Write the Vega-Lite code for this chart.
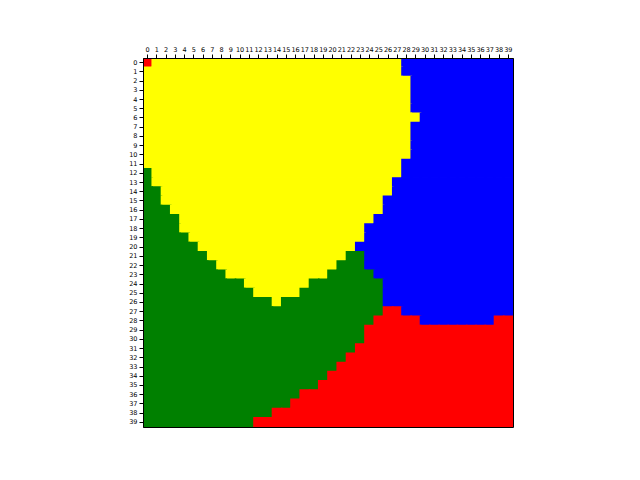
{
"$schema": "https://vega.github.io/schema/vega-lite/v6.json",
"width": 370, "height": 369,
"autosize": "none",
"padding": {"left": 143, "top": 58, "right": 127, "bottom": 53},
"background": "white",
"data": {"values": [
{"r":0,"c":0,"v":"R"},{"r":0,"c":1,"v":"Y"},{"r":0,"c":2,"v":"Y"},{"r":0,"c":3,"v":"Y"},{"r":0,"c":4,"v":"Y"},{"r":0,"c":5,"v":"Y"},{"r":0,"c":6,"v":"Y"},{"r":0,"c":7,"v":"Y"},{"r":0,"c":8,"v":"Y"},{"r":0,"c":9,"v":"Y"},{"r":0,"c":10,"v":"Y"},{"r":0,"c":11,"v":"Y"},{"r":0,"c":12,"v":"Y"},{"r":0,"c":13,"v":"Y"},{"r":0,"c":14,"v":"Y"},{"r":0,"c":15,"v":"Y"},{"r":0,"c":16,"v":"Y"},{"r":0,"c":17,"v":"Y"},{"r":0,"c":18,"v":"Y"},{"r":0,"c":19,"v":"Y"},{"r":0,"c":20,"v":"Y"},{"r":0,"c":21,"v":"Y"},{"r":0,"c":22,"v":"Y"},{"r":0,"c":23,"v":"Y"},{"r":0,"c":24,"v":"Y"},{"r":0,"c":25,"v":"Y"},{"r":0,"c":26,"v":"Y"},{"r":0,"c":27,"v":"Y"},{"r":0,"c":28,"v":"B"},{"r":0,"c":29,"v":"B"},{"r":0,"c":30,"v":"B"},{"r":0,"c":31,"v":"B"},{"r":0,"c":32,"v":"B"},{"r":0,"c":33,"v":"B"},{"r":0,"c":34,"v":"B"},{"r":0,"c":35,"v":"B"},{"r":0,"c":36,"v":"B"},{"r":0,"c":37,"v":"B"},{"r":0,"c":38,"v":"B"},{"r":0,"c":39,"v":"B"},
{"r":1,"c":0,"v":"Y"},{"r":1,"c":1,"v":"Y"},{"r":1,"c":2,"v":"Y"},{"r":1,"c":3,"v":"Y"},{"r":1,"c":4,"v":"Y"},{"r":1,"c":5,"v":"Y"},{"r":1,"c":6,"v":"Y"},{"r":1,"c":7,"v":"Y"},{"r":1,"c":8,"v":"Y"},{"r":1,"c":9,"v":"Y"},{"r":1,"c":10,"v":"Y"},{"r":1,"c":11,"v":"Y"},{"r":1,"c":12,"v":"Y"},{"r":1,"c":13,"v":"Y"},{"r":1,"c":14,"v":"Y"},{"r":1,"c":15,"v":"Y"},{"r":1,"c":16,"v":"Y"},{"r":1,"c":17,"v":"Y"},{"r":1,"c":18,"v":"Y"},{"r":1,"c":19,"v":"Y"},{"r":1,"c":20,"v":"Y"},{"r":1,"c":21,"v":"Y"},{"r":1,"c":22,"v":"Y"},{"r":1,"c":23,"v":"Y"},{"r":1,"c":24,"v":"Y"},{"r":1,"c":25,"v":"Y"},{"r":1,"c":26,"v":"Y"},{"r":1,"c":27,"v":"Y"},{"r":1,"c":28,"v":"B"},{"r":1,"c":29,"v":"B"},{"r":1,"c":30,"v":"B"},{"r":1,"c":31,"v":"B"},{"r":1,"c":32,"v":"B"},{"r":1,"c":33,"v":"B"},{"r":1,"c":34,"v":"B"},{"r":1,"c":35,"v":"B"},{"r":1,"c":36,"v":"B"},{"r":1,"c":37,"v":"B"},{"r":1,"c":38,"v":"B"},{"r":1,"c":39,"v":"B"},
{"r":2,"c":0,"v":"Y"},{"r":2,"c":1,"v":"Y"},{"r":2,"c":2,"v":"Y"},{"r":2,"c":3,"v":"Y"},{"r":2,"c":4,"v":"Y"},{"r":2,"c":5,"v":"Y"},{"r":2,"c":6,"v":"Y"},{"r":2,"c":7,"v":"Y"},{"r":2,"c":8,"v":"Y"},{"r":2,"c":9,"v":"Y"},{"r":2,"c":10,"v":"Y"},{"r":2,"c":11,"v":"Y"},{"r":2,"c":12,"v":"Y"},{"r":2,"c":13,"v":"Y"},{"r":2,"c":14,"v":"Y"},{"r":2,"c":15,"v":"Y"},{"r":2,"c":16,"v":"Y"},{"r":2,"c":17,"v":"Y"},{"r":2,"c":18,"v":"Y"},{"r":2,"c":19,"v":"Y"},{"r":2,"c":20,"v":"Y"},{"r":2,"c":21,"v":"Y"},{"r":2,"c":22,"v":"Y"},{"r":2,"c":23,"v":"Y"},{"r":2,"c":24,"v":"Y"},{"r":2,"c":25,"v":"Y"},{"r":2,"c":26,"v":"Y"},{"r":2,"c":27,"v":"Y"},{"r":2,"c":28,"v":"Y"},{"r":2,"c":29,"v":"B"},{"r":2,"c":30,"v":"B"},{"r":2,"c":31,"v":"B"},{"r":2,"c":32,"v":"B"},{"r":2,"c":33,"v":"B"},{"r":2,"c":34,"v":"B"},{"r":2,"c":35,"v":"B"},{"r":2,"c":36,"v":"B"},{"r":2,"c":37,"v":"B"},{"r":2,"c":38,"v":"B"},{"r":2,"c":39,"v":"B"},
{"r":3,"c":0,"v":"Y"},{"r":3,"c":1,"v":"Y"},{"r":3,"c":2,"v":"Y"},{"r":3,"c":3,"v":"Y"},{"r":3,"c":4,"v":"Y"},{"r":3,"c":5,"v":"Y"},{"r":3,"c":6,"v":"Y"},{"r":3,"c":7,"v":"Y"},{"r":3,"c":8,"v":"Y"},{"r":3,"c":9,"v":"Y"},{"r":3,"c":10,"v":"Y"},{"r":3,"c":11,"v":"Y"},{"r":3,"c":12,"v":"Y"},{"r":3,"c":13,"v":"Y"},{"r":3,"c":14,"v":"Y"},{"r":3,"c":15,"v":"Y"},{"r":3,"c":16,"v":"Y"},{"r":3,"c":17,"v":"Y"},{"r":3,"c":18,"v":"Y"},{"r":3,"c":19,"v":"Y"},{"r":3,"c":20,"v":"Y"},{"r":3,"c":21,"v":"Y"},{"r":3,"c":22,"v":"Y"},{"r":3,"c":23,"v":"Y"},{"r":3,"c":24,"v":"Y"},{"r":3,"c":25,"v":"Y"},{"r":3,"c":26,"v":"Y"},{"r":3,"c":27,"v":"Y"},{"r":3,"c":28,"v":"Y"},{"r":3,"c":29,"v":"B"},{"r":3,"c":30,"v":"B"},{"r":3,"c":31,"v":"B"},{"r":3,"c":32,"v":"B"},{"r":3,"c":33,"v":"B"},{"r":3,"c":34,"v":"B"},{"r":3,"c":35,"v":"B"},{"r":3,"c":36,"v":"B"},{"r":3,"c":37,"v":"B"},{"r":3,"c":38,"v":"B"},{"r":3,"c":39,"v":"B"},
{"r":4,"c":0,"v":"Y"},{"r":4,"c":1,"v":"Y"},{"r":4,"c":2,"v":"Y"},{"r":4,"c":3,"v":"Y"},{"r":4,"c":4,"v":"Y"},{"r":4,"c":5,"v":"Y"},{"r":4,"c":6,"v":"Y"},{"r":4,"c":7,"v":"Y"},{"r":4,"c":8,"v":"Y"},{"r":4,"c":9,"v":"Y"},{"r":4,"c":10,"v":"Y"},{"r":4,"c":11,"v":"Y"},{"r":4,"c":12,"v":"Y"},{"r":4,"c":13,"v":"Y"},{"r":4,"c":14,"v":"Y"},{"r":4,"c":15,"v":"Y"},{"r":4,"c":16,"v":"Y"},{"r":4,"c":17,"v":"Y"},{"r":4,"c":18,"v":"Y"},{"r":4,"c":19,"v":"Y"},{"r":4,"c":20,"v":"Y"},{"r":4,"c":21,"v":"Y"},{"r":4,"c":22,"v":"Y"},{"r":4,"c":23,"v":"Y"},{"r":4,"c":24,"v":"Y"},{"r":4,"c":25,"v":"Y"},{"r":4,"c":26,"v":"Y"},{"r":4,"c":27,"v":"Y"},{"r":4,"c":28,"v":"Y"},{"r":4,"c":29,"v":"B"},{"r":4,"c":30,"v":"B"},{"r":4,"c":31,"v":"B"},{"r":4,"c":32,"v":"B"},{"r":4,"c":33,"v":"B"},{"r":4,"c":34,"v":"B"},{"r":4,"c":35,"v":"B"},{"r":4,"c":36,"v":"B"},{"r":4,"c":37,"v":"B"},{"r":4,"c":38,"v":"B"},{"r":4,"c":39,"v":"B"},
{"r":5,"c":0,"v":"Y"},{"r":5,"c":1,"v":"Y"},{"r":5,"c":2,"v":"Y"},{"r":5,"c":3,"v":"Y"},{"r":5,"c":4,"v":"Y"},{"r":5,"c":5,"v":"Y"},{"r":5,"c":6,"v":"Y"},{"r":5,"c":7,"v":"Y"},{"r":5,"c":8,"v":"Y"},{"r":5,"c":9,"v":"Y"},{"r":5,"c":10,"v":"Y"},{"r":5,"c":11,"v":"Y"},{"r":5,"c":12,"v":"Y"},{"r":5,"c":13,"v":"Y"},{"r":5,"c":14,"v":"Y"},{"r":5,"c":15,"v":"Y"},{"r":5,"c":16,"v":"Y"},{"r":5,"c":17,"v":"Y"},{"r":5,"c":18,"v":"Y"},{"r":5,"c":19,"v":"Y"},{"r":5,"c":20,"v":"Y"},{"r":5,"c":21,"v":"Y"},{"r":5,"c":22,"v":"Y"},{"r":5,"c":23,"v":"Y"},{"r":5,"c":24,"v":"Y"},{"r":5,"c":25,"v":"Y"},{"r":5,"c":26,"v":"Y"},{"r":5,"c":27,"v":"Y"},{"r":5,"c":28,"v":"Y"},{"r":5,"c":29,"v":"B"},{"r":5,"c":30,"v":"B"},{"r":5,"c":31,"v":"B"},{"r":5,"c":32,"v":"B"},{"r":5,"c":33,"v":"B"},{"r":5,"c":34,"v":"B"},{"r":5,"c":35,"v":"B"},{"r":5,"c":36,"v":"B"},{"r":5,"c":37,"v":"B"},{"r":5,"c":38,"v":"B"},{"r":5,"c":39,"v":"B"},
{"r":6,"c":0,"v":"Y"},{"r":6,"c":1,"v":"Y"},{"r":6,"c":2,"v":"Y"},{"r":6,"c":3,"v":"Y"},{"r":6,"c":4,"v":"Y"},{"r":6,"c":5,"v":"Y"},{"r":6,"c":6,"v":"Y"},{"r":6,"c":7,"v":"Y"},{"r":6,"c":8,"v":"Y"},{"r":6,"c":9,"v":"Y"},{"r":6,"c":10,"v":"Y"},{"r":6,"c":11,"v":"Y"},{"r":6,"c":12,"v":"Y"},{"r":6,"c":13,"v":"Y"},{"r":6,"c":14,"v":"Y"},{"r":6,"c":15,"v":"Y"},{"r":6,"c":16,"v":"Y"},{"r":6,"c":17,"v":"Y"},{"r":6,"c":18,"v":"Y"},{"r":6,"c":19,"v":"Y"},{"r":6,"c":20,"v":"Y"},{"r":6,"c":21,"v":"Y"},{"r":6,"c":22,"v":"Y"},{"r":6,"c":23,"v":"Y"},{"r":6,"c":24,"v":"Y"},{"r":6,"c":25,"v":"Y"},{"r":6,"c":26,"v":"Y"},{"r":6,"c":27,"v":"Y"},{"r":6,"c":28,"v":"Y"},{"r":6,"c":29,"v":"Y"},{"r":6,"c":30,"v":"B"},{"r":6,"c":31,"v":"B"},{"r":6,"c":32,"v":"B"},{"r":6,"c":33,"v":"B"},{"r":6,"c":34,"v":"B"},{"r":6,"c":35,"v":"B"},{"r":6,"c":36,"v":"B"},{"r":6,"c":37,"v":"B"},{"r":6,"c":38,"v":"B"},{"r":6,"c":39,"v":"B"},
{"r":7,"c":0,"v":"Y"},{"r":7,"c":1,"v":"Y"},{"r":7,"c":2,"v":"Y"},{"r":7,"c":3,"v":"Y"},{"r":7,"c":4,"v":"Y"},{"r":7,"c":5,"v":"Y"},{"r":7,"c":6,"v":"Y"},{"r":7,"c":7,"v":"Y"},{"r":7,"c":8,"v":"Y"},{"r":7,"c":9,"v":"Y"},{"r":7,"c":10,"v":"Y"},{"r":7,"c":11,"v":"Y"},{"r":7,"c":12,"v":"Y"},{"r":7,"c":13,"v":"Y"},{"r":7,"c":14,"v":"Y"},{"r":7,"c":15,"v":"Y"},{"r":7,"c":16,"v":"Y"},{"r":7,"c":17,"v":"Y"},{"r":7,"c":18,"v":"Y"},{"r":7,"c":19,"v":"Y"},{"r":7,"c":20,"v":"Y"},{"r":7,"c":21,"v":"Y"},{"r":7,"c":22,"v":"Y"},{"r":7,"c":23,"v":"Y"},{"r":7,"c":24,"v":"Y"},{"r":7,"c":25,"v":"Y"},{"r":7,"c":26,"v":"Y"},{"r":7,"c":27,"v":"Y"},{"r":7,"c":28,"v":"Y"},{"r":7,"c":29,"v":"B"},{"r":7,"c":30,"v":"B"},{"r":7,"c":31,"v":"B"},{"r":7,"c":32,"v":"B"},{"r":7,"c":33,"v":"B"},{"r":7,"c":34,"v":"B"},{"r":7,"c":35,"v":"B"},{"r":7,"c":36,"v":"B"},{"r":7,"c":37,"v":"B"},{"r":7,"c":38,"v":"B"},{"r":7,"c":39,"v":"B"},
{"r":8,"c":0,"v":"Y"},{"r":8,"c":1,"v":"Y"},{"r":8,"c":2,"v":"Y"},{"r":8,"c":3,"v":"Y"},{"r":8,"c":4,"v":"Y"},{"r":8,"c":5,"v":"Y"},{"r":8,"c":6,"v":"Y"},{"r":8,"c":7,"v":"Y"},{"r":8,"c":8,"v":"Y"},{"r":8,"c":9,"v":"Y"},{"r":8,"c":10,"v":"Y"},{"r":8,"c":11,"v":"Y"},{"r":8,"c":12,"v":"Y"},{"r":8,"c":13,"v":"Y"},{"r":8,"c":14,"v":"Y"},{"r":8,"c":15,"v":"Y"},{"r":8,"c":16,"v":"Y"},{"r":8,"c":17,"v":"Y"},{"r":8,"c":18,"v":"Y"},{"r":8,"c":19,"v":"Y"},{"r":8,"c":20,"v":"Y"},{"r":8,"c":21,"v":"Y"},{"r":8,"c":22,"v":"Y"},{"r":8,"c":23,"v":"Y"},{"r":8,"c":24,"v":"Y"},{"r":8,"c":25,"v":"Y"},{"r":8,"c":26,"v":"Y"},{"r":8,"c":27,"v":"Y"},{"r":8,"c":28,"v":"Y"},{"r":8,"c":29,"v":"B"},{"r":8,"c":30,"v":"B"},{"r":8,"c":31,"v":"B"},{"r":8,"c":32,"v":"B"},{"r":8,"c":33,"v":"B"},{"r":8,"c":34,"v":"B"},{"r":8,"c":35,"v":"B"},{"r":8,"c":36,"v":"B"},{"r":8,"c":37,"v":"B"},{"r":8,"c":38,"v":"B"},{"r":8,"c":39,"v":"B"},
{"r":9,"c":0,"v":"Y"},{"r":9,"c":1,"v":"Y"},{"r":9,"c":2,"v":"Y"},{"r":9,"c":3,"v":"Y"},{"r":9,"c":4,"v":"Y"},{"r":9,"c":5,"v":"Y"},{"r":9,"c":6,"v":"Y"},{"r":9,"c":7,"v":"Y"},{"r":9,"c":8,"v":"Y"},{"r":9,"c":9,"v":"Y"},{"r":9,"c":10,"v":"Y"},{"r":9,"c":11,"v":"Y"},{"r":9,"c":12,"v":"Y"},{"r":9,"c":13,"v":"Y"},{"r":9,"c":14,"v":"Y"},{"r":9,"c":15,"v":"Y"},{"r":9,"c":16,"v":"Y"},{"r":9,"c":17,"v":"Y"},{"r":9,"c":18,"v":"Y"},{"r":9,"c":19,"v":"Y"},{"r":9,"c":20,"v":"Y"},{"r":9,"c":21,"v":"Y"},{"r":9,"c":22,"v":"Y"},{"r":9,"c":23,"v":"Y"},{"r":9,"c":24,"v":"Y"},{"r":9,"c":25,"v":"Y"},{"r":9,"c":26,"v":"Y"},{"r":9,"c":27,"v":"Y"},{"r":9,"c":28,"v":"Y"},{"r":9,"c":29,"v":"B"},{"r":9,"c":30,"v":"B"},{"r":9,"c":31,"v":"B"},{"r":9,"c":32,"v":"B"},{"r":9,"c":33,"v":"B"},{"r":9,"c":34,"v":"B"},{"r":9,"c":35,"v":"B"},{"r":9,"c":36,"v":"B"},{"r":9,"c":37,"v":"B"},{"r":9,"c":38,"v":"B"},{"r":9,"c":39,"v":"B"},
{"r":10,"c":0,"v":"Y"},{"r":10,"c":1,"v":"Y"},{"r":10,"c":2,"v":"Y"},{"r":10,"c":3,"v":"Y"},{"r":10,"c":4,"v":"Y"},{"r":10,"c":5,"v":"Y"},{"r":10,"c":6,"v":"Y"},{"r":10,"c":7,"v":"Y"},{"r":10,"c":8,"v":"Y"},{"r":10,"c":9,"v":"Y"},{"r":10,"c":10,"v":"Y"},{"r":10,"c":11,"v":"Y"},{"r":10,"c":12,"v":"Y"},{"r":10,"c":13,"v":"Y"},{"r":10,"c":14,"v":"Y"},{"r":10,"c":15,"v":"Y"},{"r":10,"c":16,"v":"Y"},{"r":10,"c":17,"v":"Y"},{"r":10,"c":18,"v":"Y"},{"r":10,"c":19,"v":"Y"},{"r":10,"c":20,"v":"Y"},{"r":10,"c":21,"v":"Y"},{"r":10,"c":22,"v":"Y"},{"r":10,"c":23,"v":"Y"},{"r":10,"c":24,"v":"Y"},{"r":10,"c":25,"v":"Y"},{"r":10,"c":26,"v":"Y"},{"r":10,"c":27,"v":"Y"},{"r":10,"c":28,"v":"Y"},{"r":10,"c":29,"v":"B"},{"r":10,"c":30,"v":"B"},{"r":10,"c":31,"v":"B"},{"r":10,"c":32,"v":"B"},{"r":10,"c":33,"v":"B"},{"r":10,"c":34,"v":"B"},{"r":10,"c":35,"v":"B"},{"r":10,"c":36,"v":"B"},{"r":10,"c":37,"v":"B"},{"r":10,"c":38,"v":"B"},{"r":10,"c":39,"v":"B"},
{"r":11,"c":0,"v":"Y"},{"r":11,"c":1,"v":"Y"},{"r":11,"c":2,"v":"Y"},{"r":11,"c":3,"v":"Y"},{"r":11,"c":4,"v":"Y"},{"r":11,"c":5,"v":"Y"},{"r":11,"c":6,"v":"Y"},{"r":11,"c":7,"v":"Y"},{"r":11,"c":8,"v":"Y"},{"r":11,"c":9,"v":"Y"},{"r":11,"c":10,"v":"Y"},{"r":11,"c":11,"v":"Y"},{"r":11,"c":12,"v":"Y"},{"r":11,"c":13,"v":"Y"},{"r":11,"c":14,"v":"Y"},{"r":11,"c":15,"v":"Y"},{"r":11,"c":16,"v":"Y"},{"r":11,"c":17,"v":"Y"},{"r":11,"c":18,"v":"Y"},{"r":11,"c":19,"v":"Y"},{"r":11,"c":20,"v":"Y"},{"r":11,"c":21,"v":"Y"},{"r":11,"c":22,"v":"Y"},{"r":11,"c":23,"v":"Y"},{"r":11,"c":24,"v":"Y"},{"r":11,"c":25,"v":"Y"},{"r":11,"c":26,"v":"Y"},{"r":11,"c":27,"v":"Y"},{"r":11,"c":28,"v":"B"},{"r":11,"c":29,"v":"B"},{"r":11,"c":30,"v":"B"},{"r":11,"c":31,"v":"B"},{"r":11,"c":32,"v":"B"},{"r":11,"c":33,"v":"B"},{"r":11,"c":34,"v":"B"},{"r":11,"c":35,"v":"B"},{"r":11,"c":36,"v":"B"},{"r":11,"c":37,"v":"B"},{"r":11,"c":38,"v":"B"},{"r":11,"c":39,"v":"B"},
{"r":12,"c":0,"v":"G"},{"r":12,"c":1,"v":"Y"},{"r":12,"c":2,"v":"Y"},{"r":12,"c":3,"v":"Y"},{"r":12,"c":4,"v":"Y"},{"r":12,"c":5,"v":"Y"},{"r":12,"c":6,"v":"Y"},{"r":12,"c":7,"v":"Y"},{"r":12,"c":8,"v":"Y"},{"r":12,"c":9,"v":"Y"},{"r":12,"c":10,"v":"Y"},{"r":12,"c":11,"v":"Y"},{"r":12,"c":12,"v":"Y"},{"r":12,"c":13,"v":"Y"},{"r":12,"c":14,"v":"Y"},{"r":12,"c":15,"v":"Y"},{"r":12,"c":16,"v":"Y"},{"r":12,"c":17,"v":"Y"},{"r":12,"c":18,"v":"Y"},{"r":12,"c":19,"v":"Y"},{"r":12,"c":20,"v":"Y"},{"r":12,"c":21,"v":"Y"},{"r":12,"c":22,"v":"Y"},{"r":12,"c":23,"v":"Y"},{"r":12,"c":24,"v":"Y"},{"r":12,"c":25,"v":"Y"},{"r":12,"c":26,"v":"Y"},{"r":12,"c":27,"v":"Y"},{"r":12,"c":28,"v":"B"},{"r":12,"c":29,"v":"B"},{"r":12,"c":30,"v":"B"},{"r":12,"c":31,"v":"B"},{"r":12,"c":32,"v":"B"},{"r":12,"c":33,"v":"B"},{"r":12,"c":34,"v":"B"},{"r":12,"c":35,"v":"B"},{"r":12,"c":36,"v":"B"},{"r":12,"c":37,"v":"B"},{"r":12,"c":38,"v":"B"},{"r":12,"c":39,"v":"B"},
{"r":13,"c":0,"v":"G"},{"r":13,"c":1,"v":"Y"},{"r":13,"c":2,"v":"Y"},{"r":13,"c":3,"v":"Y"},{"r":13,"c":4,"v":"Y"},{"r":13,"c":5,"v":"Y"},{"r":13,"c":6,"v":"Y"},{"r":13,"c":7,"v":"Y"},{"r":13,"c":8,"v":"Y"},{"r":13,"c":9,"v":"Y"},{"r":13,"c":10,"v":"Y"},{"r":13,"c":11,"v":"Y"},{"r":13,"c":12,"v":"Y"},{"r":13,"c":13,"v":"Y"},{"r":13,"c":14,"v":"Y"},{"r":13,"c":15,"v":"Y"},{"r":13,"c":16,"v":"Y"},{"r":13,"c":17,"v":"Y"},{"r":13,"c":18,"v":"Y"},{"r":13,"c":19,"v":"Y"},{"r":13,"c":20,"v":"Y"},{"r":13,"c":21,"v":"Y"},{"r":13,"c":22,"v":"Y"},{"r":13,"c":23,"v":"Y"},{"r":13,"c":24,"v":"Y"},{"r":13,"c":25,"v":"Y"},{"r":13,"c":26,"v":"Y"},{"r":13,"c":27,"v":"B"},{"r":13,"c":28,"v":"B"},{"r":13,"c":29,"v":"B"},{"r":13,"c":30,"v":"B"},{"r":13,"c":31,"v":"B"},{"r":13,"c":32,"v":"B"},{"r":13,"c":33,"v":"B"},{"r":13,"c":34,"v":"B"},{"r":13,"c":35,"v":"B"},{"r":13,"c":36,"v":"B"},{"r":13,"c":37,"v":"B"},{"r":13,"c":38,"v":"B"},{"r":13,"c":39,"v":"B"},
{"r":14,"c":0,"v":"G"},{"r":14,"c":1,"v":"G"},{"r":14,"c":2,"v":"Y"},{"r":14,"c":3,"v":"Y"},{"r":14,"c":4,"v":"Y"},{"r":14,"c":5,"v":"Y"},{"r":14,"c":6,"v":"Y"},{"r":14,"c":7,"v":"Y"},{"r":14,"c":8,"v":"Y"},{"r":14,"c":9,"v":"Y"},{"r":14,"c":10,"v":"Y"},{"r":14,"c":11,"v":"Y"},{"r":14,"c":12,"v":"Y"},{"r":14,"c":13,"v":"Y"},{"r":14,"c":14,"v":"Y"},{"r":14,"c":15,"v":"Y"},{"r":14,"c":16,"v":"Y"},{"r":14,"c":17,"v":"Y"},{"r":14,"c":18,"v":"Y"},{"r":14,"c":19,"v":"Y"},{"r":14,"c":20,"v":"Y"},{"r":14,"c":21,"v":"Y"},{"r":14,"c":22,"v":"Y"},{"r":14,"c":23,"v":"Y"},{"r":14,"c":24,"v":"Y"},{"r":14,"c":25,"v":"Y"},{"r":14,"c":26,"v":"Y"},{"r":14,"c":27,"v":"B"},{"r":14,"c":28,"v":"B"},{"r":14,"c":29,"v":"B"},{"r":14,"c":30,"v":"B"},{"r":14,"c":31,"v":"B"},{"r":14,"c":32,"v":"B"},{"r":14,"c":33,"v":"B"},{"r":14,"c":34,"v":"B"},{"r":14,"c":35,"v":"B"},{"r":14,"c":36,"v":"B"},{"r":14,"c":37,"v":"B"},{"r":14,"c":38,"v":"B"},{"r":14,"c":39,"v":"B"},
{"r":15,"c":0,"v":"G"},{"r":15,"c":1,"v":"G"},{"r":15,"c":2,"v":"Y"},{"r":15,"c":3,"v":"Y"},{"r":15,"c":4,"v":"Y"},{"r":15,"c":5,"v":"Y"},{"r":15,"c":6,"v":"Y"},{"r":15,"c":7,"v":"Y"},{"r":15,"c":8,"v":"Y"},{"r":15,"c":9,"v":"Y"},{"r":15,"c":10,"v":"Y"},{"r":15,"c":11,"v":"Y"},{"r":15,"c":12,"v":"Y"},{"r":15,"c":13,"v":"Y"},{"r":15,"c":14,"v":"Y"},{"r":15,"c":15,"v":"Y"},{"r":15,"c":16,"v":"Y"},{"r":15,"c":17,"v":"Y"},{"r":15,"c":18,"v":"Y"},{"r":15,"c":19,"v":"Y"},{"r":15,"c":20,"v":"Y"},{"r":15,"c":21,"v":"Y"},{"r":15,"c":22,"v":"Y"},{"r":15,"c":23,"v":"Y"},{"r":15,"c":24,"v":"Y"},{"r":15,"c":25,"v":"Y"},{"r":15,"c":26,"v":"B"},{"r":15,"c":27,"v":"B"},{"r":15,"c":28,"v":"B"},{"r":15,"c":29,"v":"B"},{"r":15,"c":30,"v":"B"},{"r":15,"c":31,"v":"B"},{"r":15,"c":32,"v":"B"},{"r":15,"c":33,"v":"B"},{"r":15,"c":34,"v":"B"},{"r":15,"c":35,"v":"B"},{"r":15,"c":36,"v":"B"},{"r":15,"c":37,"v":"B"},{"r":15,"c":38,"v":"B"},{"r":15,"c":39,"v":"B"},
{"r":16,"c":0,"v":"G"},{"r":16,"c":1,"v":"G"},{"r":16,"c":2,"v":"G"},{"r":16,"c":3,"v":"Y"},{"r":16,"c":4,"v":"Y"},{"r":16,"c":5,"v":"Y"},{"r":16,"c":6,"v":"Y"},{"r":16,"c":7,"v":"Y"},{"r":16,"c":8,"v":"Y"},{"r":16,"c":9,"v":"Y"},{"r":16,"c":10,"v":"Y"},{"r":16,"c":11,"v":"Y"},{"r":16,"c":12,"v":"Y"},{"r":16,"c":13,"v":"Y"},{"r":16,"c":14,"v":"Y"},{"r":16,"c":15,"v":"Y"},{"r":16,"c":16,"v":"Y"},{"r":16,"c":17,"v":"Y"},{"r":16,"c":18,"v":"Y"},{"r":16,"c":19,"v":"Y"},{"r":16,"c":20,"v":"Y"},{"r":16,"c":21,"v":"Y"},{"r":16,"c":22,"v":"Y"},{"r":16,"c":23,"v":"Y"},{"r":16,"c":24,"v":"Y"},{"r":16,"c":25,"v":"Y"},{"r":16,"c":26,"v":"B"},{"r":16,"c":27,"v":"B"},{"r":16,"c":28,"v":"B"},{"r":16,"c":29,"v":"B"},{"r":16,"c":30,"v":"B"},{"r":16,"c":31,"v":"B"},{"r":16,"c":32,"v":"B"},{"r":16,"c":33,"v":"B"},{"r":16,"c":34,"v":"B"},{"r":16,"c":35,"v":"B"},{"r":16,"c":36,"v":"B"},{"r":16,"c":37,"v":"B"},{"r":16,"c":38,"v":"B"},{"r":16,"c":39,"v":"B"},
{"r":17,"c":0,"v":"G"},{"r":17,"c":1,"v":"G"},{"r":17,"c":2,"v":"G"},{"r":17,"c":3,"v":"G"},{"r":17,"c":4,"v":"Y"},{"r":17,"c":5,"v":"Y"},{"r":17,"c":6,"v":"Y"},{"r":17,"c":7,"v":"Y"},{"r":17,"c":8,"v":"Y"},{"r":17,"c":9,"v":"Y"},{"r":17,"c":10,"v":"Y"},{"r":17,"c":11,"v":"Y"},{"r":17,"c":12,"v":"Y"},{"r":17,"c":13,"v":"Y"},{"r":17,"c":14,"v":"Y"},{"r":17,"c":15,"v":"Y"},{"r":17,"c":16,"v":"Y"},{"r":17,"c":17,"v":"Y"},{"r":17,"c":18,"v":"Y"},{"r":17,"c":19,"v":"Y"},{"r":17,"c":20,"v":"Y"},{"r":17,"c":21,"v":"Y"},{"r":17,"c":22,"v":"Y"},{"r":17,"c":23,"v":"Y"},{"r":17,"c":24,"v":"Y"},{"r":17,"c":25,"v":"B"},{"r":17,"c":26,"v":"B"},{"r":17,"c":27,"v":"B"},{"r":17,"c":28,"v":"B"},{"r":17,"c":29,"v":"B"},{"r":17,"c":30,"v":"B"},{"r":17,"c":31,"v":"B"},{"r":17,"c":32,"v":"B"},{"r":17,"c":33,"v":"B"},{"r":17,"c":34,"v":"B"},{"r":17,"c":35,"v":"B"},{"r":17,"c":36,"v":"B"},{"r":17,"c":37,"v":"B"},{"r":17,"c":38,"v":"B"},{"r":17,"c":39,"v":"B"},
{"r":18,"c":0,"v":"G"},{"r":18,"c":1,"v":"G"},{"r":18,"c":2,"v":"G"},{"r":18,"c":3,"v":"G"},{"r":18,"c":4,"v":"Y"},{"r":18,"c":5,"v":"Y"},{"r":18,"c":6,"v":"Y"},{"r":18,"c":7,"v":"Y"},{"r":18,"c":8,"v":"Y"},{"r":18,"c":9,"v":"Y"},{"r":18,"c":10,"v":"Y"},{"r":18,"c":11,"v":"Y"},{"r":18,"c":12,"v":"Y"},{"r":18,"c":13,"v":"Y"},{"r":18,"c":14,"v":"Y"},{"r":18,"c":15,"v":"Y"},{"r":18,"c":16,"v":"Y"},{"r":18,"c":17,"v":"Y"},{"r":18,"c":18,"v":"Y"},{"r":18,"c":19,"v":"Y"},{"r":18,"c":20,"v":"Y"},{"r":18,"c":21,"v":"Y"},{"r":18,"c":22,"v":"Y"},{"r":18,"c":23,"v":"Y"},{"r":18,"c":24,"v":"B"},{"r":18,"c":25,"v":"B"},{"r":18,"c":26,"v":"B"},{"r":18,"c":27,"v":"B"},{"r":18,"c":28,"v":"B"},{"r":18,"c":29,"v":"B"},{"r":18,"c":30,"v":"B"},{"r":18,"c":31,"v":"B"},{"r":18,"c":32,"v":"B"},{"r":18,"c":33,"v":"B"},{"r":18,"c":34,"v":"B"},{"r":18,"c":35,"v":"B"},{"r":18,"c":36,"v":"B"},{"r":18,"c":37,"v":"B"},{"r":18,"c":38,"v":"B"},{"r":18,"c":39,"v":"B"},
{"r":19,"c":0,"v":"G"},{"r":19,"c":1,"v":"G"},{"r":19,"c":2,"v":"G"},{"r":19,"c":3,"v":"G"},{"r":19,"c":4,"v":"G"},{"r":19,"c":5,"v":"Y"},{"r":19,"c":6,"v":"Y"},{"r":19,"c":7,"v":"Y"},{"r":19,"c":8,"v":"Y"},{"r":19,"c":9,"v":"Y"},{"r":19,"c":10,"v":"Y"},{"r":19,"c":11,"v":"Y"},{"r":19,"c":12,"v":"Y"},{"r":19,"c":13,"v":"Y"},{"r":19,"c":14,"v":"Y"},{"r":19,"c":15,"v":"Y"},{"r":19,"c":16,"v":"Y"},{"r":19,"c":17,"v":"Y"},{"r":19,"c":18,"v":"Y"},{"r":19,"c":19,"v":"Y"},{"r":19,"c":20,"v":"Y"},{"r":19,"c":21,"v":"Y"},{"r":19,"c":22,"v":"Y"},{"r":19,"c":23,"v":"Y"},{"r":19,"c":24,"v":"B"},{"r":19,"c":25,"v":"B"},{"r":19,"c":26,"v":"B"},{"r":19,"c":27,"v":"B"},{"r":19,"c":28,"v":"B"},{"r":19,"c":29,"v":"B"},{"r":19,"c":30,"v":"B"},{"r":19,"c":31,"v":"B"},{"r":19,"c":32,"v":"B"},{"r":19,"c":33,"v":"B"},{"r":19,"c":34,"v":"B"},{"r":19,"c":35,"v":"B"},{"r":19,"c":36,"v":"B"},{"r":19,"c":37,"v":"B"},{"r":19,"c":38,"v":"B"},{"r":19,"c":39,"v":"B"},
{"r":20,"c":0,"v":"G"},{"r":20,"c":1,"v":"G"},{"r":20,"c":2,"v":"G"},{"r":20,"c":3,"v":"G"},{"r":20,"c":4,"v":"G"},{"r":20,"c":5,"v":"G"},{"r":20,"c":6,"v":"Y"},{"r":20,"c":7,"v":"Y"},{"r":20,"c":8,"v":"Y"},{"r":20,"c":9,"v":"Y"},{"r":20,"c":10,"v":"Y"},{"r":20,"c":11,"v":"Y"},{"r":20,"c":12,"v":"Y"},{"r":20,"c":13,"v":"Y"},{"r":20,"c":14,"v":"Y"},{"r":20,"c":15,"v":"Y"},{"r":20,"c":16,"v":"Y"},{"r":20,"c":17,"v":"Y"},{"r":20,"c":18,"v":"Y"},{"r":20,"c":19,"v":"Y"},{"r":20,"c":20,"v":"Y"},{"r":20,"c":21,"v":"Y"},{"r":20,"c":22,"v":"Y"},{"r":20,"c":23,"v":"B"},{"r":20,"c":24,"v":"B"},{"r":20,"c":25,"v":"B"},{"r":20,"c":26,"v":"B"},{"r":20,"c":27,"v":"B"},{"r":20,"c":28,"v":"B"},{"r":20,"c":29,"v":"B"},{"r":20,"c":30,"v":"B"},{"r":20,"c":31,"v":"B"},{"r":20,"c":32,"v":"B"},{"r":20,"c":33,"v":"B"},{"r":20,"c":34,"v":"B"},{"r":20,"c":35,"v":"B"},{"r":20,"c":36,"v":"B"},{"r":20,"c":37,"v":"B"},{"r":20,"c":38,"v":"B"},{"r":20,"c":39,"v":"B"},
{"r":21,"c":0,"v":"G"},{"r":21,"c":1,"v":"G"},{"r":21,"c":2,"v":"G"},{"r":21,"c":3,"v":"G"},{"r":21,"c":4,"v":"G"},{"r":21,"c":5,"v":"G"},{"r":21,"c":6,"v":"G"},{"r":21,"c":7,"v":"Y"},{"r":21,"c":8,"v":"Y"},{"r":21,"c":9,"v":"Y"},{"r":21,"c":10,"v":"Y"},{"r":21,"c":11,"v":"Y"},{"r":21,"c":12,"v":"Y"},{"r":21,"c":13,"v":"Y"},{"r":21,"c":14,"v":"Y"},{"r":21,"c":15,"v":"Y"},{"r":21,"c":16,"v":"Y"},{"r":21,"c":17,"v":"Y"},{"r":21,"c":18,"v":"Y"},{"r":21,"c":19,"v":"Y"},{"r":21,"c":20,"v":"Y"},{"r":21,"c":21,"v":"Y"},{"r":21,"c":22,"v":"G"},{"r":21,"c":23,"v":"G"},{"r":21,"c":24,"v":"B"},{"r":21,"c":25,"v":"B"},{"r":21,"c":26,"v":"B"},{"r":21,"c":27,"v":"B"},{"r":21,"c":28,"v":"B"},{"r":21,"c":29,"v":"B"},{"r":21,"c":30,"v":"B"},{"r":21,"c":31,"v":"B"},{"r":21,"c":32,"v":"B"},{"r":21,"c":33,"v":"B"},{"r":21,"c":34,"v":"B"},{"r":21,"c":35,"v":"B"},{"r":21,"c":36,"v":"B"},{"r":21,"c":37,"v":"B"},{"r":21,"c":38,"v":"B"},{"r":21,"c":39,"v":"B"},
{"r":22,"c":0,"v":"G"},{"r":22,"c":1,"v":"G"},{"r":22,"c":2,"v":"G"},{"r":22,"c":3,"v":"G"},{"r":22,"c":4,"v":"G"},{"r":22,"c":5,"v":"G"},{"r":22,"c":6,"v":"G"},{"r":22,"c":7,"v":"G"},{"r":22,"c":8,"v":"Y"},{"r":22,"c":9,"v":"Y"},{"r":22,"c":10,"v":"Y"},{"r":22,"c":11,"v":"Y"},{"r":22,"c":12,"v":"Y"},{"r":22,"c":13,"v":"Y"},{"r":22,"c":14,"v":"Y"},{"r":22,"c":15,"v":"Y"},{"r":22,"c":16,"v":"Y"},{"r":22,"c":17,"v":"Y"},{"r":22,"c":18,"v":"Y"},{"r":22,"c":19,"v":"Y"},{"r":22,"c":20,"v":"Y"},{"r":22,"c":21,"v":"G"},{"r":22,"c":22,"v":"G"},{"r":22,"c":23,"v":"G"},{"r":22,"c":24,"v":"B"},{"r":22,"c":25,"v":"B"},{"r":22,"c":26,"v":"B"},{"r":22,"c":27,"v":"B"},{"r":22,"c":28,"v":"B"},{"r":22,"c":29,"v":"B"},{"r":22,"c":30,"v":"B"},{"r":22,"c":31,"v":"B"},{"r":22,"c":32,"v":"B"},{"r":22,"c":33,"v":"B"},{"r":22,"c":34,"v":"B"},{"r":22,"c":35,"v":"B"},{"r":22,"c":36,"v":"B"},{"r":22,"c":37,"v":"B"},{"r":22,"c":38,"v":"B"},{"r":22,"c":39,"v":"B"},
{"r":23,"c":0,"v":"G"},{"r":23,"c":1,"v":"G"},{"r":23,"c":2,"v":"G"},{"r":23,"c":3,"v":"G"},{"r":23,"c":4,"v":"G"},{"r":23,"c":5,"v":"G"},{"r":23,"c":6,"v":"G"},{"r":23,"c":7,"v":"G"},{"r":23,"c":8,"v":"G"},{"r":23,"c":9,"v":"Y"},{"r":23,"c":10,"v":"Y"},{"r":23,"c":11,"v":"Y"},{"r":23,"c":12,"v":"Y"},{"r":23,"c":13,"v":"Y"},{"r":23,"c":14,"v":"Y"},{"r":23,"c":15,"v":"Y"},{"r":23,"c":16,"v":"Y"},{"r":23,"c":17,"v":"Y"},{"r":23,"c":18,"v":"Y"},{"r":23,"c":19,"v":"Y"},{"r":23,"c":20,"v":"G"},{"r":23,"c":21,"v":"G"},{"r":23,"c":22,"v":"G"},{"r":23,"c":23,"v":"G"},{"r":23,"c":24,"v":"G"},{"r":23,"c":25,"v":"B"},{"r":23,"c":26,"v":"B"},{"r":23,"c":27,"v":"B"},{"r":23,"c":28,"v":"B"},{"r":23,"c":29,"v":"B"},{"r":23,"c":30,"v":"B"},{"r":23,"c":31,"v":"B"},{"r":23,"c":32,"v":"B"},{"r":23,"c":33,"v":"B"},{"r":23,"c":34,"v":"B"},{"r":23,"c":35,"v":"B"},{"r":23,"c":36,"v":"B"},{"r":23,"c":37,"v":"B"},{"r":23,"c":38,"v":"B"},{"r":23,"c":39,"v":"B"},
{"r":24,"c":0,"v":"G"},{"r":24,"c":1,"v":"G"},{"r":24,"c":2,"v":"G"},{"r":24,"c":3,"v":"G"},{"r":24,"c":4,"v":"G"},{"r":24,"c":5,"v":"G"},{"r":24,"c":6,"v":"G"},{"r":24,"c":7,"v":"G"},{"r":24,"c":8,"v":"G"},{"r":24,"c":9,"v":"G"},{"r":24,"c":10,"v":"G"},{"r":24,"c":11,"v":"Y"},{"r":24,"c":12,"v":"Y"},{"r":24,"c":13,"v":"Y"},{"r":24,"c":14,"v":"Y"},{"r":24,"c":15,"v":"Y"},{"r":24,"c":16,"v":"Y"},{"r":24,"c":17,"v":"Y"},{"r":24,"c":18,"v":"G"},{"r":24,"c":19,"v":"G"},{"r":24,"c":20,"v":"G"},{"r":24,"c":21,"v":"G"},{"r":24,"c":22,"v":"G"},{"r":24,"c":23,"v":"G"},{"r":24,"c":24,"v":"G"},{"r":24,"c":25,"v":"G"},{"r":24,"c":26,"v":"B"},{"r":24,"c":27,"v":"B"},{"r":24,"c":28,"v":"B"},{"r":24,"c":29,"v":"B"},{"r":24,"c":30,"v":"B"},{"r":24,"c":31,"v":"B"},{"r":24,"c":32,"v":"B"},{"r":24,"c":33,"v":"B"},{"r":24,"c":34,"v":"B"},{"r":24,"c":35,"v":"B"},{"r":24,"c":36,"v":"B"},{"r":24,"c":37,"v":"B"},{"r":24,"c":38,"v":"B"},{"r":24,"c":39,"v":"B"},
{"r":25,"c":0,"v":"G"},{"r":25,"c":1,"v":"G"},{"r":25,"c":2,"v":"G"},{"r":25,"c":3,"v":"G"},{"r":25,"c":4,"v":"G"},{"r":25,"c":5,"v":"G"},{"r":25,"c":6,"v":"G"},{"r":25,"c":7,"v":"G"},{"r":25,"c":8,"v":"G"},{"r":25,"c":9,"v":"G"},{"r":25,"c":10,"v":"G"},{"r":25,"c":11,"v":"G"},{"r":25,"c":12,"v":"Y"},{"r":25,"c":13,"v":"Y"},{"r":25,"c":14,"v":"Y"},{"r":25,"c":15,"v":"Y"},{"r":25,"c":16,"v":"Y"},{"r":25,"c":17,"v":"G"},{"r":25,"c":18,"v":"G"},{"r":25,"c":19,"v":"G"},{"r":25,"c":20,"v":"G"},{"r":25,"c":21,"v":"G"},{"r":25,"c":22,"v":"G"},{"r":25,"c":23,"v":"G"},{"r":25,"c":24,"v":"G"},{"r":25,"c":25,"v":"G"},{"r":25,"c":26,"v":"B"},{"r":25,"c":27,"v":"B"},{"r":25,"c":28,"v":"B"},{"r":25,"c":29,"v":"B"},{"r":25,"c":30,"v":"B"},{"r":25,"c":31,"v":"B"},{"r":25,"c":32,"v":"B"},{"r":25,"c":33,"v":"B"},{"r":25,"c":34,"v":"B"},{"r":25,"c":35,"v":"B"},{"r":25,"c":36,"v":"B"},{"r":25,"c":37,"v":"B"},{"r":25,"c":38,"v":"B"},{"r":25,"c":39,"v":"B"},
{"r":26,"c":0,"v":"G"},{"r":26,"c":1,"v":"G"},{"r":26,"c":2,"v":"G"},{"r":26,"c":3,"v":"G"},{"r":26,"c":4,"v":"G"},{"r":26,"c":5,"v":"G"},{"r":26,"c":6,"v":"G"},{"r":26,"c":7,"v":"G"},{"r":26,"c":8,"v":"G"},{"r":26,"c":9,"v":"G"},{"r":26,"c":10,"v":"G"},{"r":26,"c":11,"v":"G"},{"r":26,"c":12,"v":"G"},{"r":26,"c":13,"v":"G"},{"r":26,"c":14,"v":"Y"},{"r":26,"c":15,"v":"G"},{"r":26,"c":16,"v":"G"},{"r":26,"c":17,"v":"G"},{"r":26,"c":18,"v":"G"},{"r":26,"c":19,"v":"G"},{"r":26,"c":20,"v":"G"},{"r":26,"c":21,"v":"G"},{"r":26,"c":22,"v":"G"},{"r":26,"c":23,"v":"G"},{"r":26,"c":24,"v":"G"},{"r":26,"c":25,"v":"G"},{"r":26,"c":26,"v":"B"},{"r":26,"c":27,"v":"B"},{"r":26,"c":28,"v":"B"},{"r":26,"c":29,"v":"B"},{"r":26,"c":30,"v":"B"},{"r":26,"c":31,"v":"B"},{"r":26,"c":32,"v":"B"},{"r":26,"c":33,"v":"B"},{"r":26,"c":34,"v":"B"},{"r":26,"c":35,"v":"B"},{"r":26,"c":36,"v":"B"},{"r":26,"c":37,"v":"B"},{"r":26,"c":38,"v":"B"},{"r":26,"c":39,"v":"B"},
{"r":27,"c":0,"v":"G"},{"r":27,"c":1,"v":"G"},{"r":27,"c":2,"v":"G"},{"r":27,"c":3,"v":"G"},{"r":27,"c":4,"v":"G"},{"r":27,"c":5,"v":"G"},{"r":27,"c":6,"v":"G"},{"r":27,"c":7,"v":"G"},{"r":27,"c":8,"v":"G"},{"r":27,"c":9,"v":"G"},{"r":27,"c":10,"v":"G"},{"r":27,"c":11,"v":"G"},{"r":27,"c":12,"v":"G"},{"r":27,"c":13,"v":"G"},{"r":27,"c":14,"v":"G"},{"r":27,"c":15,"v":"G"},{"r":27,"c":16,"v":"G"},{"r":27,"c":17,"v":"G"},{"r":27,"c":18,"v":"G"},{"r":27,"c":19,"v":"G"},{"r":27,"c":20,"v":"G"},{"r":27,"c":21,"v":"G"},{"r":27,"c":22,"v":"G"},{"r":27,"c":23,"v":"G"},{"r":27,"c":24,"v":"G"},{"r":27,"c":25,"v":"G"},{"r":27,"c":26,"v":"R"},{"r":27,"c":27,"v":"R"},{"r":27,"c":28,"v":"B"},{"r":27,"c":29,"v":"B"},{"r":27,"c":30,"v":"B"},{"r":27,"c":31,"v":"B"},{"r":27,"c":32,"v":"B"},{"r":27,"c":33,"v":"B"},{"r":27,"c":34,"v":"B"},{"r":27,"c":35,"v":"B"},{"r":27,"c":36,"v":"B"},{"r":27,"c":37,"v":"B"},{"r":27,"c":38,"v":"B"},{"r":27,"c":39,"v":"B"},
{"r":28,"c":0,"v":"G"},{"r":28,"c":1,"v":"G"},{"r":28,"c":2,"v":"G"},{"r":28,"c":3,"v":"G"},{"r":28,"c":4,"v":"G"},{"r":28,"c":5,"v":"G"},{"r":28,"c":6,"v":"G"},{"r":28,"c":7,"v":"G"},{"r":28,"c":8,"v":"G"},{"r":28,"c":9,"v":"G"},{"r":28,"c":10,"v":"G"},{"r":28,"c":11,"v":"G"},{"r":28,"c":12,"v":"G"},{"r":28,"c":13,"v":"G"},{"r":28,"c":14,"v":"G"},{"r":28,"c":15,"v":"G"},{"r":28,"c":16,"v":"G"},{"r":28,"c":17,"v":"G"},{"r":28,"c":18,"v":"G"},{"r":28,"c":19,"v":"G"},{"r":28,"c":20,"v":"G"},{"r":28,"c":21,"v":"G"},{"r":28,"c":22,"v":"G"},{"r":28,"c":23,"v":"G"},{"r":28,"c":24,"v":"G"},{"r":28,"c":25,"v":"R"},{"r":28,"c":26,"v":"R"},{"r":28,"c":27,"v":"R"},{"r":28,"c":28,"v":"R"},{"r":28,"c":29,"v":"R"},{"r":28,"c":30,"v":"B"},{"r":28,"c":31,"v":"B"},{"r":28,"c":32,"v":"B"},{"r":28,"c":33,"v":"B"},{"r":28,"c":34,"v":"B"},{"r":28,"c":35,"v":"B"},{"r":28,"c":36,"v":"B"},{"r":28,"c":37,"v":"B"},{"r":28,"c":38,"v":"R"},{"r":28,"c":39,"v":"R"},
{"r":29,"c":0,"v":"G"},{"r":29,"c":1,"v":"G"},{"r":29,"c":2,"v":"G"},{"r":29,"c":3,"v":"G"},{"r":29,"c":4,"v":"G"},{"r":29,"c":5,"v":"G"},{"r":29,"c":6,"v":"G"},{"r":29,"c":7,"v":"G"},{"r":29,"c":8,"v":"G"},{"r":29,"c":9,"v":"G"},{"r":29,"c":10,"v":"G"},{"r":29,"c":11,"v":"G"},{"r":29,"c":12,"v":"G"},{"r":29,"c":13,"v":"G"},{"r":29,"c":14,"v":"G"},{"r":29,"c":15,"v":"G"},{"r":29,"c":16,"v":"G"},{"r":29,"c":17,"v":"G"},{"r":29,"c":18,"v":"G"},{"r":29,"c":19,"v":"G"},{"r":29,"c":20,"v":"G"},{"r":29,"c":21,"v":"G"},{"r":29,"c":22,"v":"G"},{"r":29,"c":23,"v":"G"},{"r":29,"c":24,"v":"R"},{"r":29,"c":25,"v":"R"},{"r":29,"c":26,"v":"R"},{"r":29,"c":27,"v":"R"},{"r":29,"c":28,"v":"R"},{"r":29,"c":29,"v":"R"},{"r":29,"c":30,"v":"R"},{"r":29,"c":31,"v":"R"},{"r":29,"c":32,"v":"R"},{"r":29,"c":33,"v":"R"},{"r":29,"c":34,"v":"R"},{"r":29,"c":35,"v":"R"},{"r":29,"c":36,"v":"R"},{"r":29,"c":37,"v":"R"},{"r":29,"c":38,"v":"R"},{"r":29,"c":39,"v":"R"},
{"r":30,"c":0,"v":"G"},{"r":30,"c":1,"v":"G"},{"r":30,"c":2,"v":"G"},{"r":30,"c":3,"v":"G"},{"r":30,"c":4,"v":"G"},{"r":30,"c":5,"v":"G"},{"r":30,"c":6,"v":"G"},{"r":30,"c":7,"v":"G"},{"r":30,"c":8,"v":"G"},{"r":30,"c":9,"v":"G"},{"r":30,"c":10,"v":"G"},{"r":30,"c":11,"v":"G"},{"r":30,"c":12,"v":"G"},{"r":30,"c":13,"v":"G"},{"r":30,"c":14,"v":"G"},{"r":30,"c":15,"v":"G"},{"r":30,"c":16,"v":"G"},{"r":30,"c":17,"v":"G"},{"r":30,"c":18,"v":"G"},{"r":30,"c":19,"v":"G"},{"r":30,"c":20,"v":"G"},{"r":30,"c":21,"v":"G"},{"r":30,"c":22,"v":"G"},{"r":30,"c":23,"v":"G"},{"r":30,"c":24,"v":"R"},{"r":30,"c":25,"v":"R"},{"r":30,"c":26,"v":"R"},{"r":30,"c":27,"v":"R"},{"r":30,"c":28,"v":"R"},{"r":30,"c":29,"v":"R"},{"r":30,"c":30,"v":"R"},{"r":30,"c":31,"v":"R"},{"r":30,"c":32,"v":"R"},{"r":30,"c":33,"v":"R"},{"r":30,"c":34,"v":"R"},{"r":30,"c":35,"v":"R"},{"r":30,"c":36,"v":"R"},{"r":30,"c":37,"v":"R"},{"r":30,"c":38,"v":"R"},{"r":30,"c":39,"v":"R"},
{"r":31,"c":0,"v":"G"},{"r":31,"c":1,"v":"G"},{"r":31,"c":2,"v":"G"},{"r":31,"c":3,"v":"G"},{"r":31,"c":4,"v":"G"},{"r":31,"c":5,"v":"G"},{"r":31,"c":6,"v":"G"},{"r":31,"c":7,"v":"G"},{"r":31,"c":8,"v":"G"},{"r":31,"c":9,"v":"G"},{"r":31,"c":10,"v":"G"},{"r":31,"c":11,"v":"G"},{"r":31,"c":12,"v":"G"},{"r":31,"c":13,"v":"G"},{"r":31,"c":14,"v":"G"},{"r":31,"c":15,"v":"G"},{"r":31,"c":16,"v":"G"},{"r":31,"c":17,"v":"G"},{"r":31,"c":18,"v":"G"},{"r":31,"c":19,"v":"G"},{"r":31,"c":20,"v":"G"},{"r":31,"c":21,"v":"G"},{"r":31,"c":22,"v":"G"},{"r":31,"c":23,"v":"R"},{"r":31,"c":24,"v":"R"},{"r":31,"c":25,"v":"R"},{"r":31,"c":26,"v":"R"},{"r":31,"c":27,"v":"R"},{"r":31,"c":28,"v":"R"},{"r":31,"c":29,"v":"R"},{"r":31,"c":30,"v":"R"},{"r":31,"c":31,"v":"R"},{"r":31,"c":32,"v":"R"},{"r":31,"c":33,"v":"R"},{"r":31,"c":34,"v":"R"},{"r":31,"c":35,"v":"R"},{"r":31,"c":36,"v":"R"},{"r":31,"c":37,"v":"R"},{"r":31,"c":38,"v":"R"},{"r":31,"c":39,"v":"R"},
{"r":32,"c":0,"v":"G"},{"r":32,"c":1,"v":"G"},{"r":32,"c":2,"v":"G"},{"r":32,"c":3,"v":"G"},{"r":32,"c":4,"v":"G"},{"r":32,"c":5,"v":"G"},{"r":32,"c":6,"v":"G"},{"r":32,"c":7,"v":"G"},{"r":32,"c":8,"v":"G"},{"r":32,"c":9,"v":"G"},{"r":32,"c":10,"v":"G"},{"r":32,"c":11,"v":"G"},{"r":32,"c":12,"v":"G"},{"r":32,"c":13,"v":"G"},{"r":32,"c":14,"v":"G"},{"r":32,"c":15,"v":"G"},{"r":32,"c":16,"v":"G"},{"r":32,"c":17,"v":"G"},{"r":32,"c":18,"v":"G"},{"r":32,"c":19,"v":"G"},{"r":32,"c":20,"v":"G"},{"r":32,"c":21,"v":"G"},{"r":32,"c":22,"v":"R"},{"r":32,"c":23,"v":"R"},{"r":32,"c":24,"v":"R"},{"r":32,"c":25,"v":"R"},{"r":32,"c":26,"v":"R"},{"r":32,"c":27,"v":"R"},{"r":32,"c":28,"v":"R"},{"r":32,"c":29,"v":"R"},{"r":32,"c":30,"v":"R"},{"r":32,"c":31,"v":"R"},{"r":32,"c":32,"v":"R"},{"r":32,"c":33,"v":"R"},{"r":32,"c":34,"v":"R"},{"r":32,"c":35,"v":"R"},{"r":32,"c":36,"v":"R"},{"r":32,"c":37,"v":"R"},{"r":32,"c":38,"v":"R"},{"r":32,"c":39,"v":"R"},
{"r":33,"c":0,"v":"G"},{"r":33,"c":1,"v":"G"},{"r":33,"c":2,"v":"G"},{"r":33,"c":3,"v":"G"},{"r":33,"c":4,"v":"G"},{"r":33,"c":5,"v":"G"},{"r":33,"c":6,"v":"G"},{"r":33,"c":7,"v":"G"},{"r":33,"c":8,"v":"G"},{"r":33,"c":9,"v":"G"},{"r":33,"c":10,"v":"G"},{"r":33,"c":11,"v":"G"},{"r":33,"c":12,"v":"G"},{"r":33,"c":13,"v":"G"},{"r":33,"c":14,"v":"G"},{"r":33,"c":15,"v":"G"},{"r":33,"c":16,"v":"G"},{"r":33,"c":17,"v":"G"},{"r":33,"c":18,"v":"G"},{"r":33,"c":19,"v":"G"},{"r":33,"c":20,"v":"G"},{"r":33,"c":21,"v":"R"},{"r":33,"c":22,"v":"R"},{"r":33,"c":23,"v":"R"},{"r":33,"c":24,"v":"R"},{"r":33,"c":25,"v":"R"},{"r":33,"c":26,"v":"R"},{"r":33,"c":27,"v":"R"},{"r":33,"c":28,"v":"R"},{"r":33,"c":29,"v":"R"},{"r":33,"c":30,"v":"R"},{"r":33,"c":31,"v":"R"},{"r":33,"c":32,"v":"R"},{"r":33,"c":33,"v":"R"},{"r":33,"c":34,"v":"R"},{"r":33,"c":35,"v":"R"},{"r":33,"c":36,"v":"R"},{"r":33,"c":37,"v":"R"},{"r":33,"c":38,"v":"R"},{"r":33,"c":39,"v":"R"},
{"r":34,"c":0,"v":"G"},{"r":34,"c":1,"v":"G"},{"r":34,"c":2,"v":"G"},{"r":34,"c":3,"v":"G"},{"r":34,"c":4,"v":"G"},{"r":34,"c":5,"v":"G"},{"r":34,"c":6,"v":"G"},{"r":34,"c":7,"v":"G"},{"r":34,"c":8,"v":"G"},{"r":34,"c":9,"v":"G"},{"r":34,"c":10,"v":"G"},{"r":34,"c":11,"v":"G"},{"r":34,"c":12,"v":"G"},{"r":34,"c":13,"v":"G"},{"r":34,"c":14,"v":"G"},{"r":34,"c":15,"v":"G"},{"r":34,"c":16,"v":"G"},{"r":34,"c":17,"v":"G"},{"r":34,"c":18,"v":"G"},{"r":34,"c":19,"v":"G"},{"r":34,"c":20,"v":"R"},{"r":34,"c":21,"v":"R"},{"r":34,"c":22,"v":"R"},{"r":34,"c":23,"v":"R"},{"r":34,"c":24,"v":"R"},{"r":34,"c":25,"v":"R"},{"r":34,"c":26,"v":"R"},{"r":34,"c":27,"v":"R"},{"r":34,"c":28,"v":"R"},{"r":34,"c":29,"v":"R"},{"r":34,"c":30,"v":"R"},{"r":34,"c":31,"v":"R"},{"r":34,"c":32,"v":"R"},{"r":34,"c":33,"v":"R"},{"r":34,"c":34,"v":"R"},{"r":34,"c":35,"v":"R"},{"r":34,"c":36,"v":"R"},{"r":34,"c":37,"v":"R"},{"r":34,"c":38,"v":"R"},{"r":34,"c":39,"v":"R"},
{"r":35,"c":0,"v":"G"},{"r":35,"c":1,"v":"G"},{"r":35,"c":2,"v":"G"},{"r":35,"c":3,"v":"G"},{"r":35,"c":4,"v":"G"},{"r":35,"c":5,"v":"G"},{"r":35,"c":6,"v":"G"},{"r":35,"c":7,"v":"G"},{"r":35,"c":8,"v":"G"},{"r":35,"c":9,"v":"G"},{"r":35,"c":10,"v":"G"},{"r":35,"c":11,"v":"G"},{"r":35,"c":12,"v":"G"},{"r":35,"c":13,"v":"G"},{"r":35,"c":14,"v":"G"},{"r":35,"c":15,"v":"G"},{"r":35,"c":16,"v":"G"},{"r":35,"c":17,"v":"G"},{"r":35,"c":18,"v":"G"},{"r":35,"c":19,"v":"R"},{"r":35,"c":20,"v":"R"},{"r":35,"c":21,"v":"R"},{"r":35,"c":22,"v":"R"},{"r":35,"c":23,"v":"R"},{"r":35,"c":24,"v":"R"},{"r":35,"c":25,"v":"R"},{"r":35,"c":26,"v":"R"},{"r":35,"c":27,"v":"R"},{"r":35,"c":28,"v":"R"},{"r":35,"c":29,"v":"R"},{"r":35,"c":30,"v":"R"},{"r":35,"c":31,"v":"R"},{"r":35,"c":32,"v":"R"},{"r":35,"c":33,"v":"R"},{"r":35,"c":34,"v":"R"},{"r":35,"c":35,"v":"R"},{"r":35,"c":36,"v":"R"},{"r":35,"c":37,"v":"R"},{"r":35,"c":38,"v":"R"},{"r":35,"c":39,"v":"R"},
{"r":36,"c":0,"v":"G"},{"r":36,"c":1,"v":"G"},{"r":36,"c":2,"v":"G"},{"r":36,"c":3,"v":"G"},{"r":36,"c":4,"v":"G"},{"r":36,"c":5,"v":"G"},{"r":36,"c":6,"v":"G"},{"r":36,"c":7,"v":"G"},{"r":36,"c":8,"v":"G"},{"r":36,"c":9,"v":"G"},{"r":36,"c":10,"v":"G"},{"r":36,"c":11,"v":"G"},{"r":36,"c":12,"v":"G"},{"r":36,"c":13,"v":"G"},{"r":36,"c":14,"v":"G"},{"r":36,"c":15,"v":"G"},{"r":36,"c":16,"v":"G"},{"r":36,"c":17,"v":"R"},{"r":36,"c":18,"v":"R"},{"r":36,"c":19,"v":"R"},{"r":36,"c":20,"v":"R"},{"r":36,"c":21,"v":"R"},{"r":36,"c":22,"v":"R"},{"r":36,"c":23,"v":"R"},{"r":36,"c":24,"v":"R"},{"r":36,"c":25,"v":"R"},{"r":36,"c":26,"v":"R"},{"r":36,"c":27,"v":"R"},{"r":36,"c":28,"v":"R"},{"r":36,"c":29,"v":"R"},{"r":36,"c":30,"v":"R"},{"r":36,"c":31,"v":"R"},{"r":36,"c":32,"v":"R"},{"r":36,"c":33,"v":"R"},{"r":36,"c":34,"v":"R"},{"r":36,"c":35,"v":"R"},{"r":36,"c":36,"v":"R"},{"r":36,"c":37,"v":"R"},{"r":36,"c":38,"v":"R"},{"r":36,"c":39,"v":"R"},
{"r":37,"c":0,"v":"G"},{"r":37,"c":1,"v":"G"},{"r":37,"c":2,"v":"G"},{"r":37,"c":3,"v":"G"},{"r":37,"c":4,"v":"G"},{"r":37,"c":5,"v":"G"},{"r":37,"c":6,"v":"G"},{"r":37,"c":7,"v":"G"},{"r":37,"c":8,"v":"G"},{"r":37,"c":9,"v":"G"},{"r":37,"c":10,"v":"G"},{"r":37,"c":11,"v":"G"},{"r":37,"c":12,"v":"G"},{"r":37,"c":13,"v":"G"},{"r":37,"c":14,"v":"G"},{"r":37,"c":15,"v":"G"},{"r":37,"c":16,"v":"R"},{"r":37,"c":17,"v":"R"},{"r":37,"c":18,"v":"R"},{"r":37,"c":19,"v":"R"},{"r":37,"c":20,"v":"R"},{"r":37,"c":21,"v":"R"},{"r":37,"c":22,"v":"R"},{"r":37,"c":23,"v":"R"},{"r":37,"c":24,"v":"R"},{"r":37,"c":25,"v":"R"},{"r":37,"c":26,"v":"R"},{"r":37,"c":27,"v":"R"},{"r":37,"c":28,"v":"R"},{"r":37,"c":29,"v":"R"},{"r":37,"c":30,"v":"R"},{"r":37,"c":31,"v":"R"},{"r":37,"c":32,"v":"R"},{"r":37,"c":33,"v":"R"},{"r":37,"c":34,"v":"R"},{"r":37,"c":35,"v":"R"},{"r":37,"c":36,"v":"R"},{"r":37,"c":37,"v":"R"},{"r":37,"c":38,"v":"R"},{"r":37,"c":39,"v":"R"},
{"r":38,"c":0,"v":"G"},{"r":38,"c":1,"v":"G"},{"r":38,"c":2,"v":"G"},{"r":38,"c":3,"v":"G"},{"r":38,"c":4,"v":"G"},{"r":38,"c":5,"v":"G"},{"r":38,"c":6,"v":"G"},{"r":38,"c":7,"v":"G"},{"r":38,"c":8,"v":"G"},{"r":38,"c":9,"v":"G"},{"r":38,"c":10,"v":"G"},{"r":38,"c":11,"v":"G"},{"r":38,"c":12,"v":"G"},{"r":38,"c":13,"v":"G"},{"r":38,"c":14,"v":"R"},{"r":38,"c":15,"v":"R"},{"r":38,"c":16,"v":"R"},{"r":38,"c":17,"v":"R"},{"r":38,"c":18,"v":"R"},{"r":38,"c":19,"v":"R"},{"r":38,"c":20,"v":"R"},{"r":38,"c":21,"v":"R"},{"r":38,"c":22,"v":"R"},{"r":38,"c":23,"v":"R"},{"r":38,"c":24,"v":"R"},{"r":38,"c":25,"v":"R"},{"r":38,"c":26,"v":"R"},{"r":38,"c":27,"v":"R"},{"r":38,"c":28,"v":"R"},{"r":38,"c":29,"v":"R"},{"r":38,"c":30,"v":"R"},{"r":38,"c":31,"v":"R"},{"r":38,"c":32,"v":"R"},{"r":38,"c":33,"v":"R"},{"r":38,"c":34,"v":"R"},{"r":38,"c":35,"v":"R"},{"r":38,"c":36,"v":"R"},{"r":38,"c":37,"v":"R"},{"r":38,"c":38,"v":"R"},{"r":38,"c":39,"v":"R"},
{"r":39,"c":0,"v":"G"},{"r":39,"c":1,"v":"G"},{"r":39,"c":2,"v":"G"},{"r":39,"c":3,"v":"G"},{"r":39,"c":4,"v":"G"},{"r":39,"c":5,"v":"G"},{"r":39,"c":6,"v":"G"},{"r":39,"c":7,"v":"G"},{"r":39,"c":8,"v":"G"},{"r":39,"c":9,"v":"G"},{"r":39,"c":10,"v":"G"},{"r":39,"c":11,"v":"G"},{"r":39,"c":12,"v":"R"},{"r":39,"c":13,"v":"R"},{"r":39,"c":14,"v":"R"},{"r":39,"c":15,"v":"R"},{"r":39,"c":16,"v":"R"},{"r":39,"c":17,"v":"R"},{"r":39,"c":18,"v":"R"},{"r":39,"c":19,"v":"R"},{"r":39,"c":20,"v":"R"},{"r":39,"c":21,"v":"R"},{"r":39,"c":22,"v":"R"},{"r":39,"c":23,"v":"R"},{"r":39,"c":24,"v":"R"},{"r":39,"c":25,"v":"R"},{"r":39,"c":26,"v":"R"},{"r":39,"c":27,"v":"R"},{"r":39,"c":28,"v":"R"},{"r":39,"c":29,"v":"R"},{"r":39,"c":30,"v":"R"},{"r":39,"c":31,"v":"R"},{"r":39,"c":32,"v":"R"},{"r":39,"c":33,"v":"R"},{"r":39,"c":34,"v":"R"},{"r":39,"c":35,"v":"R"},{"r":39,"c":36,"v":"R"},{"r":39,"c":37,"v":"R"},{"r":39,"c":38,"v":"R"},{"r":39,"c":39,"v":"R"}
]},
"mark": {"type": "rect", "strokeWidth": 1.6, "clip": true, "opacity": 1, "fillOpacity": 1, "strokeOpacity": 1},
"encoding": {
  "x": {"field": "c", "type": "ordinal", "scale": {"paddingInner": 0, "paddingOuter": 0},
        "axis": {"orient": "top", "title": null, "labelAngle": 0, "labelFontSize": 6.5, "labelFont": "DejaVu Sans", "labelColor": "black", "tickColor": "black", "domainColor": "black", "tickSize": 4, "labelPadding": 2, "grid": false, "labelBound": false, "labelOverlap": false}},
  "y": {"field": "r", "type": "ordinal", "scale": {"paddingInner": 0, "paddingOuter": 0},
        "axis": {"orient": "left", "title": null, "labelFontSize": 6.5, "labelFont": "DejaVu Sans", "labelColor": "black", "tickColor": "black", "domainColor": "black", "tickSize": 4, "labelPadding": 2, "grid": false, "labelOverlap": false}},
  "color": {"field": "v", "type": "nominal", "scale": {"domain": ["R", "Y", "B", "G"], "range": ["#ff0000", "#ffff00", "#0000ff", "#008000"]}, "legend": null},
  "stroke": {"field": "v", "type": "nominal", "scale": {"domain": ["R", "Y", "B", "G"], "range": ["#ff0000", "#ffff00", "#0000ff", "#008000"]}, "legend": null}
},
"config": {"view": {"stroke": "black", "strokeWidth": 1}, "axis": {"domainWidth": 1, "tickWidth": 1}}
}
